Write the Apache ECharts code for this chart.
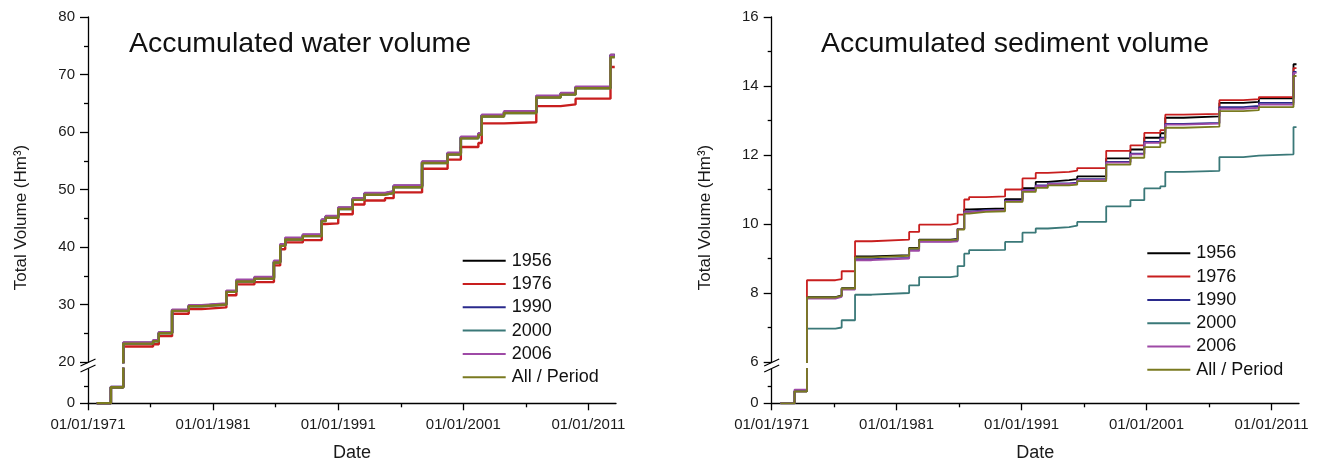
<!DOCTYPE html>
<html>
<head>
<meta charset="utf-8">
<script src="https://cdn.jsdelivr.net/npm/echarts@6/dist/echarts.min.js"></script>
<style>
  html, body { margin: 0; padding: 0; background: #fff; }
  #main { width: 1320px; height: 464px; }
</style>
</head>
<body>
<div id="main"></div>
<script>
// legend / series names
const names = ['1956', '1976', '1990', '2000', '2006', 'All / Period'];
const colors = ['#000000', '#c81e1e', '#2a2a8c', '#3a7878', '#9e4aa6', '#7a7a20'];

// x tick labels (years, shown as 01/01/yyyy)
const yearLabels = [1971, 1981, 1991, 2001, 2011];
const yearMinor = [1976, 1986, 1996, 2006];

// accumulated water volume (Hm3), step dates in decimal years
const waterDates = [1971.7, 1972.83, 1973.82, 1976.2, 1976.66, 1977.72, 1979.05, 1980.07, 1982.06, 1982.86, 1984.3,
  1985.86, 1986.36, 1986.76, 1988.17, 1989.68, 1990.0, 1991.0, 1992.16, 1993.1, 1994.74, 1995.43, 1997.7, 1999.74,
  2000.8, 2002.2, 2002.47, 2004.25, 2006.83, 2008.78, 2009.97, 2012.76, 2013.1];
const water1956 = [0, 4.7, 23.3, 23.7, 25.1, 29.0, 29.8, 30.1, 32.3, 34.1, 34.6, 37.4, 40.3, 41.4, 42.0, 44.7, 45.3,
  46.8, 48.4, 49.3, 49.6, 50.6, 54.8, 56.3, 59.1, 59.7, 62.9, 63.5, 66.2, 66.7, 67.8, 73.4, 73.4];
const water1976 = [0, 4.7, 22.7, 23.1, 24.5, 28.4, 29.2, 29.5, 31.6, 33.5, 33.9, 36.8, 39.6, 40.8, 41.2, 44.0, 44.1,
  45.7, 47.4, 48.1, 48.5, 49.5, 53.6, 55.2, 57.4, 58.1, 61.5, 61.7, 64.5, 64.8, 65.8, 71.3, 71.3];
const water1990 = [0, 4.8, 23.3, 23.7, 25.1, 29.0, 29.8, 30.1, 32.3, 34.2, 34.7, 37.5, 40.4, 41.5, 42.1, 44.7, 45.3,
  46.8, 48.4, 49.3, 49.6, 50.6, 54.8, 56.3, 59.1, 59.7, 62.9, 63.5, 66.2, 66.7, 67.8, 73.3, 73.3];
const water2000 = [0, 4.7, 23.2, 23.6, 25.0, 28.9, 29.7, 30.0, 32.2, 34.0, 34.5, 37.3, 40.2, 41.3, 41.9, 44.5, 45.1,
  46.6, 48.2, 49.1, 49.4, 50.4, 54.6, 56.1, 58.9, 59.5, 62.7, 63.3, 66.0, 66.5, 67.6, 73.1, 73.1];
const water2006 = [0, 4.8, 23.4, 23.8, 25.2, 29.1, 29.9, 30.2, 32.4, 34.3, 34.8, 37.6, 40.5, 41.6, 42.2, 44.8, 45.4,
  46.9, 48.5, 49.4, 49.7, 50.7, 54.9, 56.4, 59.2, 59.8, 63.0, 63.6, 66.3, 66.8, 67.9, 73.4, 73.4];
const waterAll = [0, 4.7, 23.2, 23.6, 25.0, 28.9, 29.7, 30.0, 32.2, 34.0, 34.5, 37.3, 40.2, 41.3, 41.9, 44.5, 45.1,
  46.6, 48.2, 49.1, 49.4, 50.4, 54.6, 56.1, 58.9, 59.5, 62.7, 63.3, 66.0, 66.5, 67.6, 73.0, 73.0];

// accumulated sediment volume (Hm3)
const sedDates = [1971.7, 1972.83, 1973.82, 1976.1, 1976.6, 1977.67, 1979.0, 1982.0, 1982.8, 1985.3, 1985.88,
  1986.41, 1986.8, 1988.14, 1989.68, 1991.07, 1992.13, 1993.1, 1994.8, 1995.45, 1997.77, 1999.71, 2000.82, 2002.1,
  2002.5, 2003.96, 2006.83, 2008.74, 2009.99, 2012.76, 2013.0];
const sed1956 = [0, 0.7, 7.88, 7.93, 8.14, 9.06, 9.10, 9.31, 9.55, 9.57, 9.86, 10.42, 10.44, 10.45, 10.72, 11.04,
  11.22, 11.27, 11.30, 11.38, 11.90, 12.16, 12.50, 12.63, 13.08, 13.12, 13.51, 13.54, 13.64, 14.63, 14.63];
const sed1976 = [0, 0.7, 8.37, 8.40, 8.63, 9.50, 9.55, 9.77, 9.98, 10.02, 10.27, 10.71, 10.78, 10.80, 11.00, 11.32,
  11.48, 11.51, 11.55, 11.62, 12.12, 12.28, 12.64, 12.72, 13.17, 13.19, 13.59, 13.62, 13.68, 14.52, 14.52];
const sed1990 = [0, 0.75, 7.86, 7.91, 8.12, 8.98, 9.02, 9.24, 9.50, 9.52, 9.86, 10.36, 10.40, 10.41, 10.68, 10.98,
  11.12, 11.18, 11.20, 11.30, 11.80, 12.04, 12.38, 12.50, 12.90, 12.93, 13.39, 13.42, 13.51, 14.41, 14.41];
const sed2000 = [0, 0.7, 6.97, 7.00, 7.21, 7.95, 8.00, 8.22, 8.46, 8.49, 8.78, 9.14, 9.24, 9.25, 9.48, 9.75,
  9.87, 9.91, 9.95, 10.06, 10.51, 10.69, 11.03, 11.09, 11.51, 11.54, 11.94, 11.98, 12.02, 12.81, 12.81];
const sed2006 = [0, 0.8, 7.84, 7.89, 8.10, 8.95, 9.00, 9.22, 9.48, 9.50, 9.85, 10.34, 10.38, 10.40, 10.66, 10.97,
  11.10, 11.16, 11.18, 11.28, 11.78, 12.02, 12.35, 12.47, 12.88, 12.91, 13.34, 13.37, 13.46, 14.38, 14.38];
const sedAll = [0, 0.7, 7.87, 7.92, 8.13, 9.03, 9.08, 9.29, 9.53, 9.55, 9.84, 10.30, 10.35, 10.37, 10.64, 10.93,
  11.05, 11.12, 11.14, 11.24, 11.72, 11.92, 12.23, 12.36, 12.79, 12.82, 13.27, 13.30, 13.39, 14.29, 14.29];

const waterSets = [water1956, water1976, water1990, water2000, water2006, waterAll];
const sedSets = [sed1956, sed1976, sed1990, sed2000, sed2006, sedAll];

const FONT = '"Liberation Sans", Arial, Helvetica, sans-serif';
const X_MIN = 1971, X_MAX = 2013.2;

// panel geometry
const panels = [
  { left: 88, width: 528 },
  { left: 771.7, width: 527.3 }
];
const UP_TOP = 17, UP_H = 345, LO_TOP = 369, LO_H = 34.3;

const chart = echarts.init(document.getElementById('main'));

const grid = [], xAxis = [], yAxis = [], series = [], graphic = [];

const axisLine = { show: true, onZero: false, lineStyle: { color: '#000', width: 1.3 } };
const labelStyle = { color: '#1a1a1a', fontSize: 15, fontFamily: FONT };

function hiddenX(gi) {
  return { type: 'value', gridIndex: gi, min: X_MIN, max: X_MAX, show: false };
}

panels.forEach((p, k) => {
  const g0 = grid.length;
  grid.push({ left: p.left, top: UP_TOP, width: p.width, height: UP_H });
  grid.push({ left: p.left, top: LO_TOP, width: p.width, height: LO_H });
  grid.push({ left: p.left, top: 24, width: p.width, height: 387 });

  const xi0 = xAxis.length;
  xAxis.push(hiddenX(g0));
  xAxis.push({
    type: 'value', gridIndex: g0 + 1, min: X_MIN, max: X_MAX, position: 'bottom',
    axisLine: axisLine,
    axisTick: { show: true, customValues: yearLabels, length: 7, lineStyle: { color: '#000', width: 1.3 } },
    axisLabel: Object.assign({ customValues: yearLabels, margin: 14, formatter: v => '01/01/' + Math.round(v) }, labelStyle),
    splitLine: { show: false },
    name: 'Date', nameLocation: 'middle', nameGap: 41,
    nameTextStyle: { fontSize: 18, color: '#1a1a1a', fontFamily: FONT }
  });
  xAxis.push({
    type: 'value', gridIndex: g0 + 1, min: X_MIN, max: X_MAX, position: 'bottom',
    axisLine: { show: false },
    axisTick: { show: true, customValues: yearMinor, length: 4, lineStyle: { color: '#000', width: 1.3 } },
    axisLabel: { show: false }, splitLine: { show: false }
  });
  xAxis.push(hiddenX(g0 + 2));

  const upper = k === 0 ? { min: 20, max: 80, interval: 10 } : { min: 6, max: 16, interval: 2 };
  const lower = k === 0 ? { max: 10, minor: 5 } : { max: 2, minor: 1 };

  const yi0 = yAxis.length;
  yAxis.push(Object.assign({
    type: 'value', gridIndex: g0, position: 'left',
    axisLine: axisLine,
    axisTick: { show: true, length: 8, lineStyle: { color: '#000', width: 1.3 } },
    minorTick: { show: true, splitNumber: 2, length: 4, lineStyle: { color: '#000', width: 1.3 } },
    axisLabel: Object.assign({ margin: 13 }, labelStyle),
    splitLine: { show: false }
  }, upper));
  yAxis.push({
    type: 'value', gridIndex: g0 + 1, position: 'left', min: 0, max: lower.max,
    axisLine: axisLine,
    axisTick: { show: true, customValues: [0], length: 8, lineStyle: { color: '#000', width: 1.3 } },
    axisLabel: Object.assign({ customValues: [0], margin: 13 }, labelStyle),
    splitLine: { show: false }
  });
  yAxis.push({
    type: 'value', gridIndex: g0 + 1, position: 'left', min: 0, max: lower.max,
    axisLine: { show: false },
    axisTick: { show: true, customValues: [lower.minor], length: 4, lineStyle: { color: '#000', width: 1.3 } },
    axisLabel: { show: false }, splitLine: { show: false }
  });
  yAxis.push({
    type: 'value', gridIndex: g0 + 2, position: 'left', min: 0, max: 1,
    axisLine: { show: false }, axisTick: { show: false }, axisLabel: { show: false }, splitLine: { show: false },
    name: 'Total Volume (Hm³)', nameLocation: 'middle', nameGap: 58,
    nameTextStyle: { fontSize: 17, color: '#1a1a1a', fontFamily: FONT }
  });

  const dates = k === 0 ? waterDates : sedDates;
  const sets = k === 0 ? waterSets : sedSets;
  const lw = k === 0 ? 2.4 : 1.8;
  [[xi0, yi0], [xi0 + 1, yi0 + 1]].forEach(([xi, yi]) => {
    names.forEach((n, i) => {
      series.push({
        name: n, type: 'line', step: 'end', xAxisIndex: xi, yAxisIndex: yi,
        data: dates.map((d, j) => [d, sets[i][j]]),
        symbol: 'none', clip: true,
        lineStyle: { color: colors[i], width: lw },
        itemStyle: { color: colors[i] }
      });
    });
  });

  // axis break marks
  const ax = p.left;
  [362.5, 368.5].forEach(cy => {
    graphic.push({
      type: 'line', silent: true,
      shape: { x1: ax - 7.5, y1: cy + 3.5, x2: ax + 7.5, y2: cy - 3.5 },
      style: { stroke: '#000', lineWidth: 1.2 }
    });
  });
});

const legendBase = {
  orient: 'vertical', data: names, icon: 'rect', itemWidth: 43, itemHeight: 2, itemGap: 5.3, padding: 0,
  selectedMode: false,
  textStyle: { fontSize: 18, color: '#111', fontFamily: FONT, padding: [0, 0, 0, 1] }
};

chart.setOption({
  animation: false,
  backgroundColor: '#fff',
  title: [
    { text: 'Accumulated water volume', left: 129, top: 30, padding: 0,
      textStyle: { fontSize: 28.5, fontWeight: 'normal', color: '#111', fontFamily: FONT } },
    { text: 'Accumulated sediment volume', left: 821, top: 30, padding: 0,
      textStyle: { fontSize: 28.5, fontWeight: 'normal', color: '#111', fontFamily: FONT } }
  ],
  legend: [
    Object.assign({ left: 462.7, top: 251.7 }, legendBase),
    Object.assign({ left: 1147.3, top: 244.3 }, legendBase)
  ],
  grid: grid,
  xAxis: xAxis,
  yAxis: yAxis,
  series: series,
  graphic: graphic
});
</script>
</body>
</html>
